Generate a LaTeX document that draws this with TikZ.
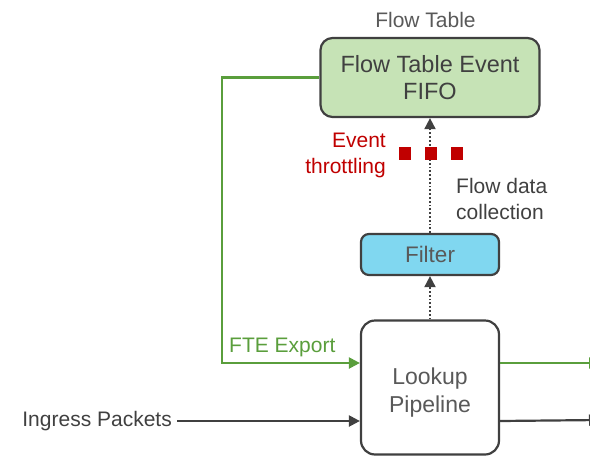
\documentclass[tikz,border=0pt]{standalone}
\usepackage{fontspec}
\setmainfont{Liberation Sans}
\usetikzlibrary{arrows.meta}
\definecolor{txt}{HTML}{404040}
\definecolor{lbl}{HTML}{595959}
\definecolor{grn}{HTML}{5A9E3C}
\definecolor{fifofill}{HTML}{C6E3B6}
\definecolor{filtfill}{HTML}{80D7F0}
\definecolor{redd}{HTML}{C00000}
\tikzset{
  box/.style={draw=txt, line width=2.2pt, text=txt, align=center, inner sep=0pt},
  conn/.style={line width=2.2pt, -{Triangle[length=11pt,width=11pt]}},
  dotconn/.style={dotted, draw=txt, line width=1.8pt, -{Triangle[length=11pt,width=11pt,fill=txt]}},
  sq/.style={fill=redd, minimum size=12.5pt, inner sep=0pt},
  lab/.style={inner sep=0pt, font=\fontsize{21}{26}\selectfont}
}
\begin{document}
\begin{tikzpicture}[x=1pt,y=-1pt]
\useasboundingbox (0,0) rectangle (590,456);
\clip (0,0) rectangle (590,456);

\node[box, fill=fifofill, rounded corners=12pt, minimum width=219pt, minimum height=79pt,
      font=\fontsize{23.5}{27}\selectfont] (fifo) at (430,77.5) {Flow Table Event\\FIFO};
\node[lab, text=lbl] (ft) at (425.5,20) {Flow Table};
\node[box, fill=filtfill, rounded corners=8pt, minimum width=138pt, minimum height=41pt,
      text=lbl, font=\fontsize{22.5}{24}\selectfont] (filter) at (430,254.5) {Filter};
\node[box, fill=white, rounded corners=14pt, minimum width=138pt, minimum height=134pt] (lookup) at (430,387.5) {};
\node[inner sep=0pt, align=center, text=lbl, font=\fontsize{23}{28}\selectfont] (lookuptxt) at (430,393) {Lookup\\Pipeline};

\node[lab, text=redd, align=right, anchor=east] (thr) at (386,155.5) {Event\\throttling};
\node[lab, text=txt, align=left, anchor=west] (fdc) at (456,199) {Flow data\\collection};
\node[lab, text=grn, anchor=west] (fte) at (229,347.5) {FTE Export};
\node[lab, text=txt, anchor=east] (ing) at (172,421) {Ingress Packets};

\coordinate (gcorner) at (222,77.5);
\coordinate (out1) at (600,363);
\coordinate (out2) at (600,420);

% dotted data path
\draw[dotconn] (lookup.north) -- (filter.south);
\draw[dotconn] (filter.north) -- (fifo.south);

% throttling squares
\node[sq] (sq1) at (405,153.5) {};
\node[sq] (sq2) at (431,153.5) {};
\node[sq] (sq3) at (457,153.5) {};

% green FTE export loop
\draw[conn, draw=grn] (fifo.west) -- (gcorner) |- ([yshift=24.5pt]lookup.west);
\draw[conn, draw=grn] ([yshift=24.5pt]lookup.east) -- (out1);

% ingress path
\draw[conn, draw=txt] (ing.east) ++(5,0) coordinate (ingstart) -- (ingstart -| lookup.west);
\draw[conn, draw=txt] (lookup.east |- ingstart) -- (out2);
\end{tikzpicture}
\end{document}
